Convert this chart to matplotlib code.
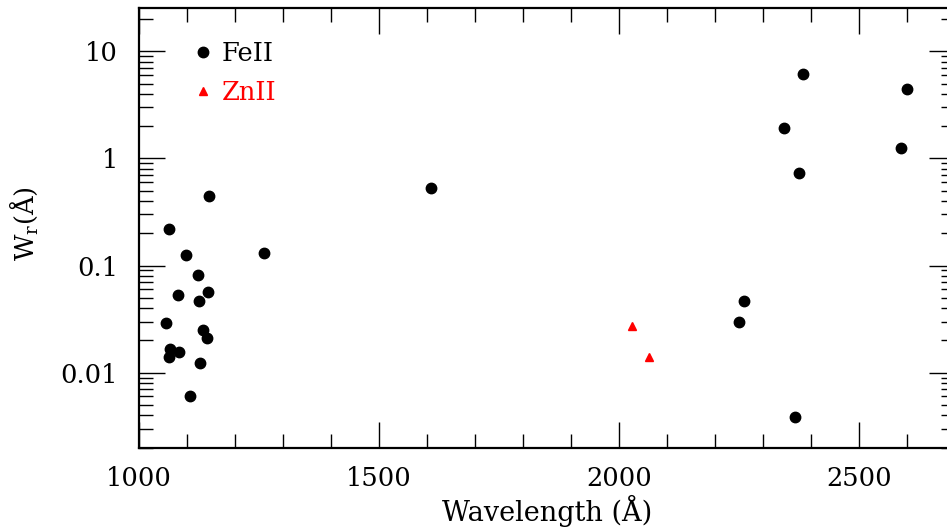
import matplotlib
matplotlib.use("Agg")
import matplotlib.pyplot as plt
from matplotlib.ticker import LogLocator, FixedLocator, FuncFormatter

# FeII lines: rest wavelength (A) and rest-frame equivalent width (A)
fe_wave = [1055.3, 1063.2, 1063.9, 1062.2, 1081.9, 1083.4, 1096.9, 1106.3,
           1122.0, 1125.4, 1133.7, 1127.1, 1142.4, 1143.2, 1144.9, 1260.5,
           1608.5, 2249.9, 2260.8, 2344.2, 2367.6, 2374.5, 2382.8, 2586.7,
           2600.2]
fe_wr = [0.0292, 0.221, 0.0168, 0.0140, 0.0536, 0.0156, 0.126, 0.0060,
         0.0819, 0.0465, 0.0251, 0.01245, 0.0213, 0.0568, 0.450, 0.1305,
         0.527, 0.030, 0.0466, 1.94, 0.0039, 0.728, 6.1, 1.26,
         4.48]

# ZnII lines
zn_wave = [2026.1, 2062.7]
zn_wr = [0.027, 0.0139]

x_major = [1000, 1500, 2000, 2500]
y_major = [0.01, 0.1, 1, 10]

plt.rcParams['font.family'] = ['DejaVu Serif']
plt.rcParams['mathtext.fontset'] = 'dejavuserif'

fig = plt.figure(figsize=(9.47, 5.29), dpi=100)
# right edge of the frame sits just past the image edge, as in the original
ax = fig.add_axes([139/947, 1-447.7/529, (955-139)/947, (447.7-8)/529])

ax.plot(fe_wave, fe_wr, 'o', color='k', ms=7.5, ls='none', label='FeII')
ax.plot(zn_wave, zn_wr, '^', color='r', ms=6, ls='none', label='ZnII')

ax.set_yscale('log')
ax.set_xlim(1000, 2700)
ax.set_ylim(10**-2.7, 10**1.404)

ax.xaxis.set_major_locator(FixedLocator(x_major))
ax.xaxis.set_minor_locator(FixedLocator(range(1000, 2701, 100)))
ax.yaxis.set_major_locator(FixedLocator(y_major))
ax.yaxis.set_minor_locator(LogLocator(base=10, subs=range(2, 10), numticks=20))
ax.yaxis.set_major_formatter(FuncFormatter(lambda v, p: '%g' % v))

ax.tick_params(which='both', direction='in', top=True, right=True,
               labelsize=18.5, width=1.0, color='k')
ax.tick_params(which='major', length=19, pad=13)
ax.tick_params(which='minor', length=10)
ax.tick_params(axis='y', which='major', pad=15)
for sp in ax.spines.values():
    sp.set_linewidth(1.6)

# label sits low, close to the bottom edge like the original
ax.set_xlabel('Wavelength (Å)', fontsize=19.5)
ax.xaxis.set_label_coords(0.5, -0.108)
ax.set_ylabel(r'W$_{\rm r}$(Å)', fontsize=18.5)
ax.yaxis.set_label_coords(-0.121, 0.51)

ax.legend(loc='upper left', bbox_to_anchor=(0.057, 0.948), frameon=False,
          fontsize=18.5, handlelength=0.6, handletextpad=0.4,
          labelspacing=0.55, labelcolor='linecolor', borderaxespad=0)

fig.savefig('out.png', dpi=100)
